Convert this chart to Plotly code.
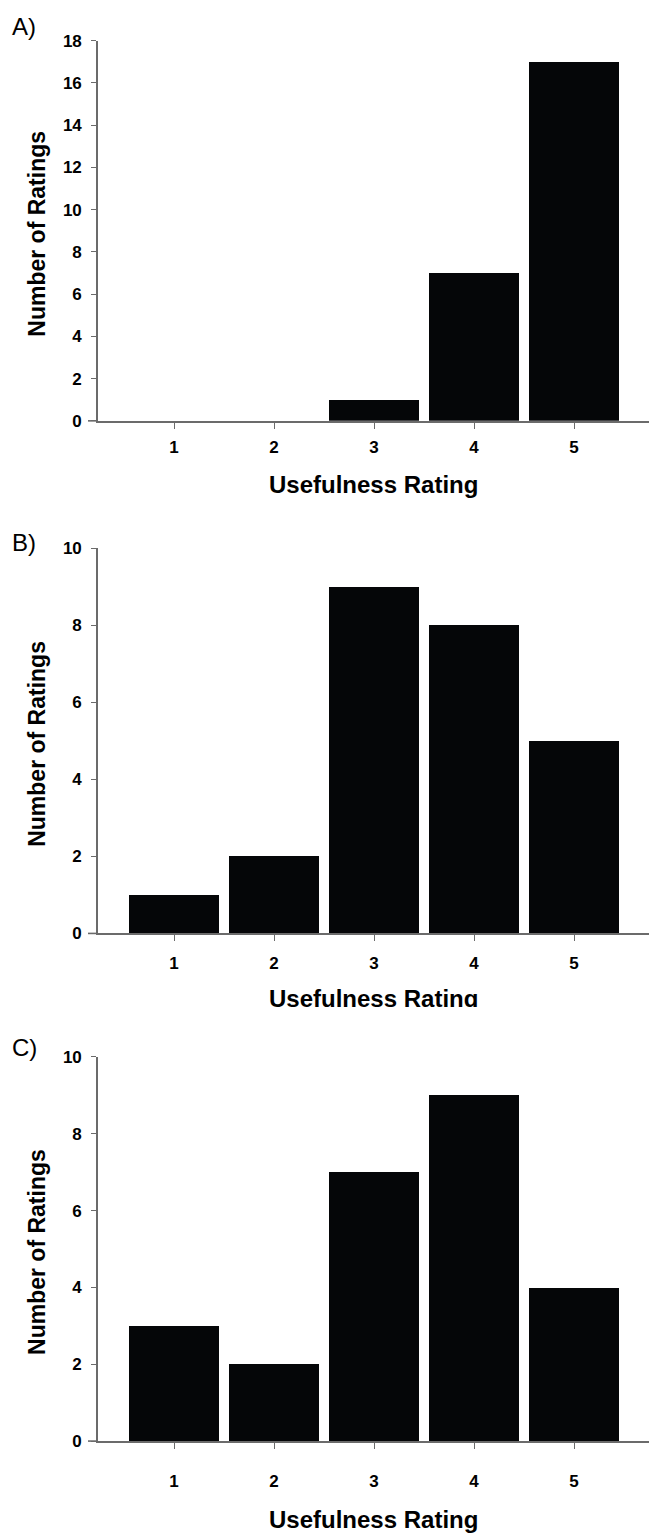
import plotly.graph_objects as go

ratings = [1, 2, 3, 4, 5]
counts_a = [0, 0, 1, 7, 17]
counts_b = [1, 2, 9, 8, 5]
counts_c = [3, 2, 7, 9, 4]
panel_labels = ["A)", "B)", "C)"]
y_max = [18, 10, 10]
y_tick_step = [2, 2, 2]
x_title = "Usefulness Rating"
y_title = "Number of Ratings"

W, H = 662, 1537
ML, MR = 98, 13
PW = W - ML - MR
FONT = "Liberation Sans, Arial, sans-serif"
BAR = "#050608"
AX = "#6b6b6b"

# pixel rows (top, bottom) of each plot area
rows = [(32, 417), (546, 936), (1061, 1450)]
xlab_offsets = [25, 28, 39]
xtitle_offsets = [64, 66, 79]
label_y = [18, 540, 1051]

def py(p):
    return 1 - p / H

fig = go.Figure()
series = [counts_a, counts_b, counts_c]
annotations = []
shapes = []
for i, (vals, (top, bot)) in enumerate(zip(series, rows)):
    n = "" if i == 0 else str(i + 1)
    fig.add_trace(go.Bar(x=ratings, y=vals, width=0.9, marker=dict(color=BAR, line=dict(width=0)),
                         xaxis="x" + n, yaxis="y" + n, showlegend=False, hoverinfo="skip"))
    dom = [py(bot), py(top)]
    fig.layout["xaxis" + n] = dict(domain=[0, 1], anchor="y" + n, range=[0.24, 5.75],
                                   tickvals=ratings, ticktext=[str(r) for r in ratings],
                                   showline=True, linecolor=AX, linewidth=1.6,
                                   ticks="outside", ticklen=6, tickcolor=AX, tickwidth=1.4,
                                   showgrid=False, zeroline=False,
                                   ticklabelstandoff=xlab_offsets[i] - 21,
                                   tickfont=dict(family=FONT, size=17, color="#000", weight="bold"))
    fig.layout["yaxis" + n] = dict(domain=dom, anchor="x" + n, range=[0, y_max[i]],
                                   dtick=y_tick_step[i], tick0=0,
                                   showline=True, linecolor=AX, linewidth=1.6,
                                   ticks="outside", ticklen=5, tickcolor=AX, tickwidth=1.4,
                                   showgrid=False, zeroline=False, ticklabelstandoff=6,
                                   tickfont=dict(family=FONT, size=17, color="#000", weight="bold"))
    # extension of x-axis line to the left of the y-axis
    shapes.append(dict(type="line", xref="paper", yref="paper",
                       x0=(88 - ML) / PW, x1=0, y0=py(bot), y1=py(bot),
                       line=dict(color=AX, width=1.6)))
    annotations.append(dict(text=panel_labels[i], xref="paper", yref="paper",
                            x=(10 - ML) / PW, y=py(label_y[i]), xanchor="left", yanchor="middle",
                            showarrow=False, font=dict(family=FONT, size=24, color="#000")))
    annotations.append(dict(text="<b>" + y_title + "</b>", xref="paper", yref="paper",
                            x=(37 - ML) / PW, y=py((top + bot) / 2 + 3), textangle=-90,
                            xanchor="center", yanchor="middle", showarrow=False,
                            font=dict(family=FONT, size=23, color="#000")))
    annotations.append(dict(text="<b>" + x_title + "</b>", xref="paper", yref="paper",
                            x=(373 - ML) / PW, y=py(bot + xtitle_offsets[i]),
                            xanchor="center", yanchor="middle",
                            showarrow=False, font=dict(family=FONT, size=24, color="#000")))

# panel B's axis title is cut off along its baseline in the original figure
bt = rows[1][1] + xtitle_offsets[1] + 8
annotations.append(dict(text=" ", xref="paper", yref="paper", x=(373 - ML) / PW,
                        y=py(bt), xanchor="center", yanchor="top", width=280, height=22,
                        bgcolor="white", borderpad=0, borderwidth=0, showarrow=False,
                        font=dict(size=4)))

fig.update_layout(width=W, height=H, margin=dict(l=ML, r=MR, t=0, b=0),
                  paper_bgcolor="white", plot_bgcolor="white", bargap=0,
                  annotations=annotations, shapes=shapes, hovermode=False)
fig.write_html("out.html", config={"displayModeBar": False},
               post_script="document.body.style.margin='0';")
